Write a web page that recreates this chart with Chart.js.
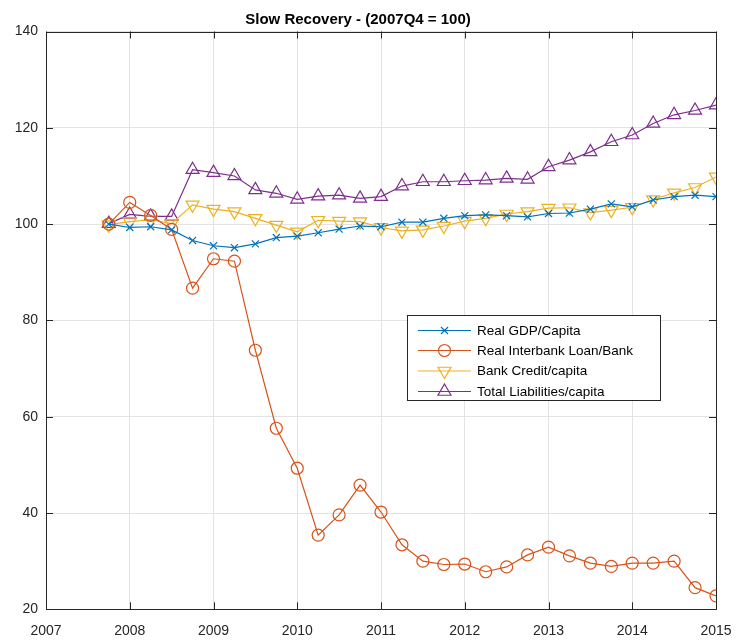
<!DOCTYPE html>
<html>
<head>
<meta charset="utf-8">
<script src="https://cdn.jsdelivr.net/npm/chart.js@4.4.1/dist/chart.umd.min.js"></script>
<style>
html,body{margin:0;padding:0;background:#fff;}
#wrap{width:738px;height:642px;position:relative;}
</style>
</head>
<body>
<div id="wrap"><canvas id="c" width="738" height="642"></canvas></div>
<script>
const quarters = ['2007Q4','2008Q1','2008Q2','2008Q3','2008Q4','2009Q1','2009Q2','2009Q3','2009Q4','2010Q1','2010Q2','2010Q3','2010Q4','2011Q1','2011Q2','2011Q3','2011Q4','2012Q1','2012Q2','2012Q3','2012Q4','2013Q1','2013Q2','2013Q3','2013Q4','2014Q1','2014Q2','2014Q3','2014Q4','2015Q1'];
const realGdpCapita = [100.0,99.3,99.45,98.8,96.6,95.5,95.1,95.9,97.2,97.5,98.2,98.95,99.6,99.45,100.4,100.4,101.2,101.75,101.9,101.75,101.5,102.2,102.3,103.1,104.2,103.6,105.0,105.7,106.0,105.7];
const realInterbankLoanBank = [100.0,104.5,101.8,98.9,86.7,92.8,92.3,73.8,57.6,49.3,35.4,39.6,45.8,40.2,33.4,30.0,29.3,29.4,27.8,28.8,31.3,32.9,31.1,29.6,28.9,29.6,29.6,30.0,24.5,22.8];
const bankCreditCapita = [99.9,100.5,100.9,100.1,104.0,103.1,102.6,101.2,99.8,98.4,100.8,100.6,100.5,99.3,98.6,98.8,99.6,100.6,101.2,102.1,102.6,103.3,103.4,102.4,102.9,103.5,105.1,106.5,107.6,109.8];
const totalLiabilitiesCapita = [100.1,102.0,101.6,101.6,111.3,110.7,110.0,107.1,106.4,105.15,105.8,106.0,105.35,105.7,107.9,108.8,108.8,109.0,109.15,109.5,109.3,111.9,113.3,115.0,117.1,118.5,120.9,122.7,123.6,124.7];
const seriesNames = ['Real GDP/Capita','Real Interbank Loan/Bank','Bank Credit/capita','Total Liabilities/capita'];
const xTicks = [2007,2008,2009,2010,2011,2012,2013,2014,2015];
const yTicks = [20,40,60,80,100,120,140];
const titleText = 'Slow Recovery - (2007Q4 = 100)';

function qToX(q){ const yr = parseInt(q.slice(0,4),10); const n = parseInt(q.slice(5),10); return yr + (n-1)/4; }
function pts(vals){ return quarters.map((q,i)=>({x:qToX(q), y:vals[i]})); }

const FONT = '"Liberation Sans", Arial, Helvetica, sans-serif';
const AX = '#262626';
const cols = ['#0072BD','#D95319','#EDB120','#7E2F8E'];
const styles = [
  {pointStyle:'crossRot', radius:5, rot:0},
  {pointStyle:'circle', radius:6, rot:0},
  {pointStyle:'triangle', radius:7.5, rot:180},
  {pointStyle:'triangle', radius:7.5, rot:0}
];
const allVals = [realGdpCapita, realInterbankLoanBank, bankCreditCapita, totalLiabilitiesCapita];

const datasets = allVals.map((v,i)=>({
  label: seriesNames[i],
  data: pts(v),
  borderColor: cols[i],
  backgroundColor: 'rgba(0,0,0,0)',
  pointBackgroundColor: 'rgba(0,0,0,0)',
  pointBorderColor: cols[i],
  pointBorderWidth: 1.2,
  borderWidth: 1.2,
  pointStyle: styles[i].pointStyle,
  pointRadius: styles[i].radius,
  pointRotation: styles[i].rot,
  pointHoverRadius: styles[i].radius,
  tension: 0,
  fill: false
}));

const boxPlugin = {
  id:'boxTicks',
  afterDraw(chart){
    const ctx = chart.ctx, a = chart.chartArea;
    const xs = chart.scales.x, ys = chart.scales.y;
    ctx.save();
    ctx.strokeStyle = AX; ctx.lineWidth = 1;
    ctx.beginPath();
    ctx.rect(Math.round(a.left)+0.5, Math.round(a.top)+0.5, Math.round(a.right)-Math.round(a.left), Math.round(a.bottom)-Math.round(a.top));
    ctx.stroke();
    const tl = 7;
    ctx.beginPath();
    xTicks.forEach(t=>{
      const px = Math.round(xs.getPixelForValue(t))+0.5;
      ctx.moveTo(px, a.bottom); ctx.lineTo(px, a.bottom - tl);
      ctx.moveTo(px, a.top); ctx.lineTo(px, a.top + tl);
    });
    yTicks.forEach(t=>{
      const py = Math.round(ys.getPixelForValue(t))+0.5;
      ctx.moveTo(a.left, py); ctx.lineTo(a.left + tl, py);
      ctx.moveTo(a.right, py); ctx.lineTo(a.right - tl, py);
    });
    ctx.stroke();

    // legend
    const lx = 407.5, ly = 315.5, lw = 253, lh = 85;
    ctx.fillStyle = '#fff';
    ctx.fillRect(lx, ly, lw, lh);
    ctx.strokeStyle = AX; ctx.lineWidth = 1;
    ctx.strokeRect(lx, ly, lw, lh);
    const rows = [330.5, 350.5, 371, 391.5];
    chart.data.datasets.forEach((ds,i)=>{
      const y = rows[i];
      ctx.strokeStyle = ds.borderColor; ctx.lineWidth = 1.2;
      ctx.beginPath(); ctx.moveTo(418, y); ctx.lineTo(471, y); ctx.stroke();
      ctx.fillStyle = 'rgba(0,0,0,0)';
      ctx.strokeStyle = ds.borderColor;
      Chart.helpers.drawPoint(ctx, {
        pointStyle: ds.pointStyle, radius: ds.pointRadius, rotation: ds.pointRotation, borderWidth: 1.2
      }, 444.5, y);
      ctx.fillStyle = '#000';
      ctx.font = '13.5px ' + FONT;
      ctx.textBaseline = 'middle'; ctx.textAlign = 'left';
      ctx.fillText(ds.label, 477, y+0.5);
    });
    ctx.restore();
  }
};

new Chart(document.getElementById('c'), {
  type:'line',
  data:{datasets},
  options:{
    responsive:false,
    animation:false,
    devicePixelRatio:1,
    layout:{padding:{left:0,right:22,top:0,bottom:0}},
    plugins:{
      legend:{display:false},
      tooltip:{enabled:false},
      title:{display:true,text:titleText,color:'#000',font:{family:FONT,size:15,weight:'bold',lineHeight:1.2},padding:{top:10.5,bottom:3}}
    },
    scales:{
      x:{
        type:'linear', min:2007, max:2015,
        afterBuildTicks(s){ s.ticks = xTicks.map(v=>({value:v})); },
        afterFit(s){ s.height = 32.7; s.paddingLeft = 0; s.paddingRight = 0; },
        ticks:{color:AX,font:{family:FONT,size:14},padding:13,maxRotation:0,callback:v=>String(v)},
        grid:{color:'#e3e3e3',lineWidth:1,drawTicks:false},
        border:{display:false}
      },
      y:{
        type:'linear', min:20, max:140,
        afterBuildTicks(s){ s.ticks = yTicks.map(v=>({value:v})); },
        afterFit(s){ s.width = 46; s.paddingTop = 0; s.paddingBottom = 0; },
        ticks:{color:AX,font:{family:FONT,size:14},padding:8,callback:v=>String(v)},
        grid:{color:'#e3e3e3',lineWidth:1,drawTicks:false},
        border:{display:false}
      }
    }
  },
  plugins:[boxPlugin]
});
</script>
</body>
</html>
